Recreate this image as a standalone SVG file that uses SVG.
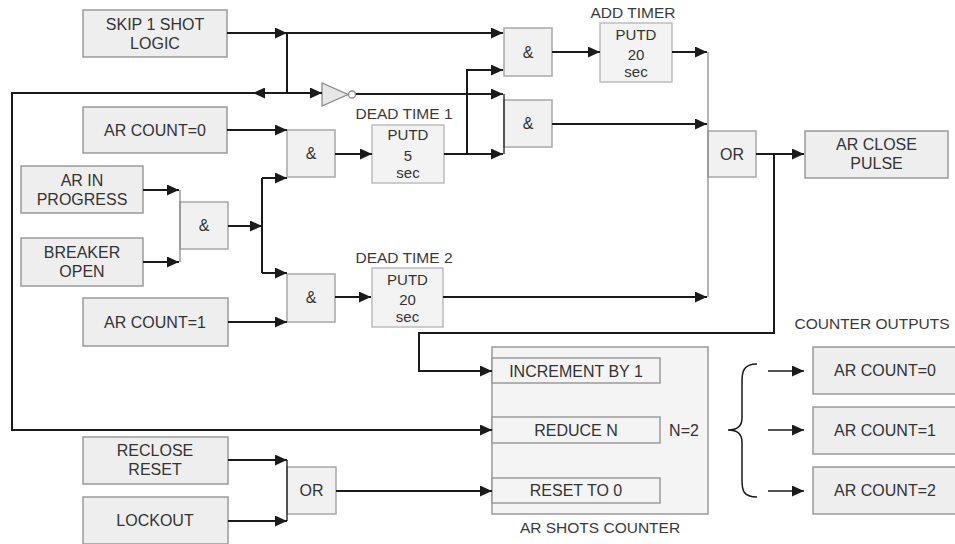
<svg xmlns="http://www.w3.org/2000/svg" width="955" height="544" viewBox="0 0 955 544">
<defs>
<marker id="ah" viewBox="0 0 12 11" refX="12" refY="5.5" markerWidth="12" markerHeight="11" markerUnits="userSpaceOnUse" orient="auto">
<path d="M0,0 L12,5.5 L0,11 Z" fill="#1a1a1a"/>
</marker>
</defs>
<style>
text{font-family:"Liberation Sans",Arial,sans-serif;fill:#333;text-anchor:middle}
.t{font-size:16px}
.cap{font-size:15.5px;fill:#3a3a3a}
.sm{font-size:15px}
.num{font-size:15px}
.box{fill:#eeeeee;stroke:#9a9a9a;stroke-width:1.5}
.gate{fill:#f1f1f1;stroke:#a8a8a8;stroke-width:1.5}
.tmr{fill:#f3f3f3;stroke:#bdbdbd;stroke-width:1.5}
.cnt{fill:#f4f4f4;stroke:#9a9a9a;stroke-width:1.5}
.w{fill:none;stroke:#1a1a1a;stroke-width:2}
.a{marker-end:url(#ah)}
.bar{fill:none;stroke:#8a8a8a;stroke-width:1.3}
</style>
<rect width="955" height="544" fill="#ffffff"/>

<g id="skip"><rect class="box" x="83" y="10" width="144" height="47"/><text class="t" x="155" y="29.5">SKIP 1 SHOT</text><text class="t" x="155" y="48.5">LOGIC</text></g>
<g id="arcount0-in"><rect class="box" x="83" y="107" width="144" height="46"/><text class="t" x="155" y="135.5">AR COUNT=0</text></g>
<g id="arinprogress"><rect class="box" x="21" y="166" width="122" height="47"/><text class="t" x="82" y="185.5">AR IN</text><text class="t" x="82" y="204.5">PROGRESS</text></g>
<g id="breakeropen"><rect class="box" x="21" y="238" width="122" height="48"/><text class="t" x="82" y="257.5">BREAKER</text><text class="t" x="82" y="276.5">OPEN</text></g>
<g id="arcount1-in"><rect class="box" x="83" y="298" width="145" height="48"/><text class="t" x="155" y="327.5">AR COUNT=1</text></g>
<g id="recloseReset"><rect class="box" x="83" y="437" width="145" height="47"/><text class="t" x="155" y="455.5">RECLOSE</text><text class="t" x="155" y="474.5">RESET</text></g>
<g id="lockout"><rect class="box" x="83" y="497" width="145" height="47"/><text class="t" x="155" y="525.5">LOCKOUT</text></g>

<g id="and1"><rect class="gate" x="180" y="202" width="48" height="47"/><text class="t" x="204" y="231">&amp;</text></g>
<g id="and2"><rect class="gate" x="287" y="130" width="48" height="47"/><text class="t" x="311" y="159">&amp;</text></g>
<g id="and3"><rect class="gate" x="287" y="274" width="48" height="48"/><text class="t" x="311" y="303">&amp;</text></g>
<g id="and4"><rect class="gate" x="504" y="28" width="48" height="48"/><text class="t" x="528" y="57.5">&amp;</text></g>
<g id="and5"><rect class="gate" x="504" y="100" width="48" height="47"/><text class="t" x="528" y="129">&amp;</text></g>
<g id="or1"><rect class="gate" x="708" y="131" width="48" height="46"/><text class="t" x="732" y="159.5">OR</text></g>
<g id="or2"><rect class="gate" x="287" y="467" width="49" height="47"/><text class="t" x="311.5" y="496">OR</text></g>

<g id="inverter"><path d="M322,83 L322,106 L348,94.5 Z" fill="#e6e6e6" stroke="#8a8a8a" stroke-width="1.3"/><circle cx="352" cy="94.5" r="3.5" fill="#ffffff" stroke="#8a8a8a" stroke-width="1.3"/></g>

<g id="deadtime1"><text class="cap" x="404" y="118.5">DEAD TIME 1</text><rect class="tmr" x="372" y="125" width="72" height="58"/><text class="sm" x="408" y="140">PUTD</text><text class="num" x="408" y="160.5">5</text><text class="sm" x="408" y="177.5">sec</text></g>
<g id="addtimer"><text class="cap" x="633" y="18">ADD TIMER</text><rect class="tmr" x="600" y="23" width="72" height="59"/><text class="sm" x="636" y="39.5">PUTD</text><text class="num" x="636" y="59.5">20</text><text class="sm" x="636" y="76.5">sec</text></g>
<g id="deadtime2"><text class="cap" x="404" y="263">DEAD TIME 2</text><rect class="tmr" x="372" y="268" width="71" height="59"/><text class="sm" x="407.5" y="284.5">PUTD</text><text class="num" x="407.5" y="305">20</text><text class="sm" x="407.5" y="321.5">sec</text></g>

<g id="arclosepulse"><rect class="box" x="805" y="131" width="143" height="47"/><text class="t" x="876.5" y="149.5">AR CLOSE</text><text class="t" x="876.5" y="168.5">PULSE</text></g>

<g id="counter"><rect class="cnt" x="492" y="347" width="216" height="167"/>
<rect class="cnt" x="492" y="358" width="168" height="25"/><text class="t" x="576" y="376.5">INCREMENT BY 1</text>
<rect class="cnt" x="492" y="417" width="168" height="26"/><text class="t" x="576" y="435.5">REDUCE N</text>
<rect class="cnt" x="492" y="478" width="168" height="25"/><text class="t" x="576" y="496">RESET TO 0</text>
<text class="t" x="684" y="435.5">N=2</text>
<text class="cap" x="600" y="532.5">AR SHOTS COUNTER</text></g>

<g id="counteroutputs"><text class="cap" x="872" y="328.5">COUNTER OUTPUTS</text>
<path d="M757,364 C743,364 742,372 742,382 L742,418 C742,426 737,430 728,430 C737,430 742,434 742,442 L742,480 C742,490 743,497 757,497" fill="none" stroke="#1a1a1a" stroke-width="1.5"/></g>
<g id="out0"><rect class="box" x="813" y="347" width="150" height="47"/><text class="t" x="885" y="376">AR COUNT=0</text></g>
<g id="out1"><rect class="box" x="813" y="407" width="150" height="47"/><text class="t" x="885" y="436">AR COUNT=1</text></g>
<g id="out2"><rect class="box" x="813" y="467" width="150" height="47"/><text class="t" x="885" y="496">AR COUNT=2</text></g>

<g id="connectors">
<path class="w a" d="M227,33 H287"/>
<path class="w a" d="M287,33 H503"/>
<path class="w" d="M287,33 V93"/>
<path class="w a" d="M287,93 H253"/>
<path class="w a" d="M253,93 H12 V430 H492"/>
<path class="w a" d="M287,93 H322"/>
<path class="w a" d="M356,94 H503"/>
<path class="bar" d="M504,94 V154" style="stroke:#1a1a1a"/>
<path class="w a" d="M227,130 H287"/>
<path class="w a" d="M143,190 H179"/>
<path class="w a" d="M143,262 H179"/>
<path class="bar" d="M180,190 V262"/>
<path class="w a" d="M228,226 H262"/>
<path class="w" d="M262,178 V273"/>
<path class="w a" d="M262,178 H287"/>
<path class="w a" d="M262,273 H287"/>
<path class="w a" d="M335,154 H372"/>
<path class="w a" d="M444,154 H503"/>
<path class="w a" d="M467,154 V70 H503"/>
<path class="w a" d="M552,52 H600"/>
<path class="w a" d="M672,52 H707"/>
<path class="w a" d="M552,124 H707"/>
<path class="w a" d="M228,322 H287"/>
<path class="w a" d="M335,297 H371"/>
<path class="w a" d="M443,297 H707"/>
<path class="bar" d="M708,52 V297"/>
<path class="w a" d="M756,154 H804"/>
<path class="w a" d="M774,154 V333 H419 V371 H492"/>
<path class="w a" d="M228,460 H287"/>
<path class="w a" d="M228,521 H287"/>
<path class="bar" d="M287,460 V521" style="stroke:#1a1a1a"/>
<path class="w a" d="M336,491 H492"/>
<path class="w a" d="M768,371 H804" style="stroke-width:1.6"/>
<path class="w a" d="M768,430 H804" style="stroke-width:1.6"/>
<path class="w a" d="M768,491 H804" style="stroke-width:1.6"/>
</g>
</svg>
